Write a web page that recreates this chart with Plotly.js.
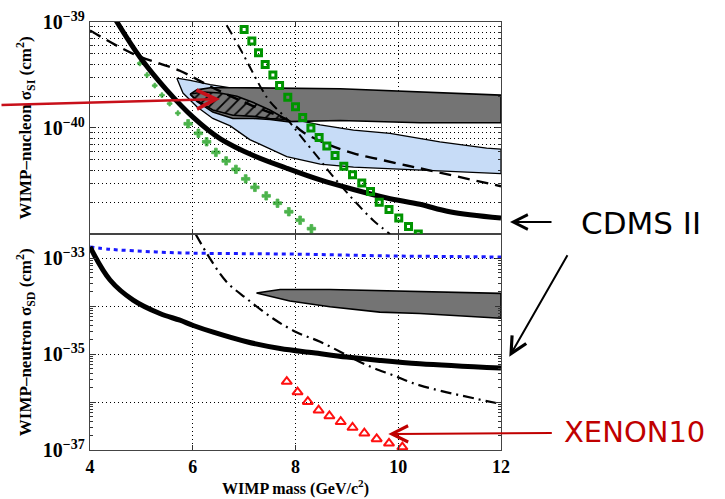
<!DOCTYPE html>
<html>
<head>
<meta charset="utf-8">
<script src="https://cdn.plot.ly/plotly-3.0.1.min.js"></script>
<style>html,body{margin:0;padding:0;background:#fff;}#chart{width:725px;height:499px;}</style>
</head>
<body>
<div id="chart"></div>
<script>
// ---------- DATA (mass in GeV/c^2, cross sections as log10(cm^2)) ----------
// Top panel: spin-independent
const siLimitMass = [4.50, 4.97, 5.49, 6.01, 6.53, 7.18, 7.83, 8.48, 9.13, 9.78, 10.42, 11.0, 12.0];
const siLimitLog  = [-38.98, -39.33, -39.64, -39.90, -40.10, -40.26, -40.38, -40.49, -40.58, -40.66, -40.72, -40.79, -40.85];

const siDashMass = [4.0, 4.84, 5.75, 6.39, 7.11, 7.86, 8.15, 8.61, 9.13, 9.58, 10.03, 10.42, 12.0];
const siDashLog  = [-39.08, -39.30, -39.46, -39.62, -39.78, -39.93, -40.04, -40.15, -40.24, -40.29, -40.34, -40.38, -40.55];

const siDashDotMass = [6.66, 6.92, 7.15, 7.34, 7.50, 7.86, 8.09, 8.41, 8.67, 8.93, 9.19, 9.51, 9.84];
const siDashDotLog  = [-39.03, -39.25, -39.46, -39.63, -39.75, -39.93, -40.07, -40.26, -40.42, -40.57, -40.71, -40.87, -41.0];

const siSquareMass = [7.00, 7.15, 7.28, 7.41, 7.56, 7.69, 7.85, 8.00, 8.14, 8.30, 8.46, 8.61, 8.77, 8.94, 9.11, 9.29, 9.46, 9.63, 9.82, 10.01, 10.20, 10.39];
const siSquareLog  = [-39.07, -39.18, -39.29, -39.40, -39.50, -39.60, -39.71, -39.80, -39.90, -40.00, -40.09, -40.17, -40.26, -40.36, -40.44, -40.52, -40.60, -40.70, -40.77, -40.85, -40.93, -41.00];

const siCrossMass = [4.97, 5.11, 5.26, 5.40, 5.55, 5.71, 5.91, 6.11, 6.27, 6.45, 6.65, 6.84, 7.03, 7.21, 7.43, 7.65, 7.87, 8.09, 8.31];
const siCrossLog  = [-39.39, -39.50, -39.60, -39.69, -39.77, -39.86, -39.96, -40.05, -40.13, -40.23, -40.31, -40.39, -40.48, -40.56, -40.64, -40.71, -40.79, -40.87, -40.95];

// light-blue allowed region (closed contour)
const siBlueMass = [5.69, 5.95, 6.34, 6.86, 7.86, 8.48, 9.13, 9.84, 10.81, 11.72, 12.0, 12.0, 11.01, 10.03, 9.13, 8.48, 7.83, 7.11, 6.73, 6.39, 6.08, 5.81, 5.69];
const siBlueLog  = [-39.53, -39.55, -39.59, -39.63, -39.91, -39.97, -40.02, -40.05, -40.13, -40.19, -40.20, -40.43, -40.41, -40.39, -40.37, -40.34, -40.27, -40.11, -39.98, -39.91, -39.80, -39.67, -39.53];

// dark-grey allowed region (closed contour)
const siGreyMass = [5.95, 6.08, 6.34, 6.86, 8.87, 10.42, 12.0, 12.0, 10.42, 8.87, 7.85, 7.50, 7.18, 6.78, 6.39, 6.08, 5.95];
const siGreyLog  = [-39.68, -39.64, -39.62, -39.62, -39.63, -39.66, -39.69, -39.95, -39.95, -39.93, -39.94, -39.92, -39.91, -39.91, -39.85, -39.75, -39.68];

// hatched region (closed contour)
const siHatchMass = [5.95, 6.21, 6.53, 6.86, 7.18, 7.50, 7.83, 7.50, 7.18, 6.78, 6.39, 6.08, 5.95];
const siHatchLog  = [-39.68, -39.66, -39.67, -39.70, -39.76, -39.83, -39.92, -39.91, -39.89, -39.88, -39.83, -39.74, -39.68];

// Bottom panel: spin-dependent (neutron)
const sdLimitMass = [4.0, 4.39, 4.84, 5.36, 5.75, 6.01, 6.40, 7.05, 7.70, 8.35, 9.0, 9.64, 10.42, 12.0];
const sdLimitLog  = [-32.76, -33.45, -33.87, -34.15, -34.29, -34.40, -34.54, -34.74, -34.88, -34.97, -35.06, -35.13, -35.20, -35.29];

const sdDottedMass = [4.0, 4.4, 4.84, 5.4, 6.0, 7.0, 8.0, 9.0, 10.0, 11.0, 12.0];
const sdDottedLog  = [-32.76, -32.81, -32.84, -32.87, -32.89, -32.90, -32.91, -32.93, -32.95, -32.96, -32.97];

const sdDashDotMass = [6.06, 6.34, 6.66, 7.05, 7.57, 8.02, 8.48, 9.0, 9.39, 9.90, 10.42, 12.0];
const sdDashDotLog  = [-32.5, -33.01, -33.49, -33.84, -34.26, -34.54, -34.74, -35.02, -35.23, -35.44, -35.65, -36.04];

const sdGreyMass = [7.24, 7.70, 8.67, 9.64, 10.42, 12.0, 12.0, 10.42, 9.64, 8.67, 7.89, 7.44, 7.24];
const sdGreyLog  = [-33.72, -33.65, -33.65, -33.67, -33.70, -33.73, -34.25, -34.15, -34.12, -34.01, -33.89, -33.78, -33.72];

const sdTriMass = [7.83, 8.04, 8.24, 8.45, 8.66, 8.88, 9.11, 9.34, 9.58, 9.82, 10.08];
const sdTriLog  = [-35.57, -35.79, -35.99, -36.17, -36.29, -36.41, -36.53, -36.65, -36.77, -36.86, -36.94];

const xTicks = [4, 6, 8, 10, 12];
const topTickText = ['10<sup>−40</sup>', '10<sup>−39</sup>'];
const botTickText = ['10<sup>−37</sup>', '', '10<sup>−35</sup>', '', '10<sup>−33</sup>'];
const labelCDMS = 'CDMS II';
const labelXENON = 'XENON10';

// marker styles (first crosses are drawn as small dots in the reference)
const crossSizes = siCrossMass.map((m, i) => i < 6 ? 4 : 7);

// ---------- helpers ----------
const p10 = a => a.map(v => Math.pow(10, v));
const decades = (lo, hi) => { const o = []; for (let e = lo; e <= hi; e++) o.push(Math.pow(10, e)); return o; };
const minors = (lo, hi) => { const o = []; for (let e = lo; e < hi; e++) for (let d = 2; d <= 9; d++) o.push(d * Math.pow(10, e)); return o; };

const T = {xaxis: 'x2', yaxis: 'y2'};
const B = {xaxis: 'x', yaxis: 'y'};
const serif = 'Liberation Serif, Times New Roman, serif';

const traces = [
  // top panel
  Object.assign({x: siBlueMass, y: p10(siBlueLog), mode: 'lines', fill: 'toself', fillcolor: '#c7dcf7',
    line: {color: '#000', width: 1.3}, hoverinfo: 'skip'}, T),
  Object.assign({x: siGreyMass, y: p10(siGreyLog), mode: 'lines', fill: 'toself', fillcolor: '#747474',
    line: {color: '#000', width: 1.6}, hoverinfo: 'skip'}, T),
  Object.assign({x: siHatchMass, y: p10(siHatchLog), mode: 'lines', fill: 'toself', fillcolor: '#747474',
    fillpattern: {shape: '/', bgcolor: '#747474', fgcolor: '#000', size: 8, solidity: 0.22},
    line: {color: '#000', width: 1.6}, hoverinfo: 'skip'}, T),
  Object.assign({x: siCrossMass, y: p10(siCrossLog), mode: 'markers',
    marker: {symbol: 'cross', size: crossSizes, color: '#009400', line: {width: 0.8, color: '#009400'}}}, T),
  Object.assign({x: siLimitMass, y: p10(siLimitLog), mode: 'lines', line: {color: '#000', width: 5, shape: 'spline'}}, T),
  Object.assign({x: siDashMass, y: p10(siDashLog), mode: 'lines', line: {color: '#000', width: 2.4, dash: '12px,7px', shape: 'spline'}}, T),
  Object.assign({x: siDashDotMass, y: p10(siDashDotLog), mode: 'lines', line: {color: '#000', width: 2, dash: '10px,5px,2px,5px', shape: 'spline'}}, T),
  Object.assign({x: siSquareMass, y: p10(siSquareLog), mode: 'markers',
    marker: {symbol: 'square-open', size: 6, color: '#009400', line: {width: 3, color: '#009400'}}}, T),
  // bottom panel
  Object.assign({x: sdGreyMass, y: p10(sdGreyLog), mode: 'lines', fill: 'toself', fillcolor: '#747474',
    line: {color: '#000', width: 1.6}, hoverinfo: 'skip'}, B),
  Object.assign({x: sdDottedMass, y: p10(sdDottedLog), mode: 'lines', line: {color: '#1a1aff', width: 3, dash: '4px,4px', shape: 'spline'}}, B),
  Object.assign({x: sdLimitMass, y: p10(sdLimitLog), mode: 'lines', line: {color: '#000', width: 5, shape: 'spline'}}, B),
  Object.assign({x: sdDashDotMass, y: p10(sdDashDotLog), mode: 'lines', line: {color: '#000', width: 2.2, dash: '11px,5px,2px,5px', shape: 'spline'}}, B),
  Object.assign({x: sdTriMass, y: p10(sdTriLog), mode: 'markers',
    marker: {symbol: 'triangle-up-open', size: 9, color: '#ff1010', line: {width: 2, color: '#ff1010'}}}, B)
];

const gridDash = '1px,3px';
const xBase = {
  range: [4, 12], tickmode: 'array', tickvals: xTicks, ticks: 'inside', ticklen: 5, tickcolor: '#333',
  showline: true, linecolor: '#444', linewidth: 1.2, mirror: 'ticks', zeroline: false,
  showgrid: true, gridcolor: '#000', gridwidth: 1, griddash: gridDash
};
const yBase = {
  type: 'log', tickmode: 'array', ticks: 'inside', ticklen: 6, tickcolor: '#333',
  showline: true, linecolor: '#444', linewidth: 1.2, mirror: 'ticks', zeroline: false,
  showgrid: true, gridcolor: '#000', gridwidth: 1, griddash: gridDash,
  tickfont: {family: serif, size: 20, color: '#000', weight: 'bold'}
};

const layout = {
  width: 725, height: 499,
  margin: {l: 90, r: 224, t: 22, b: 49, pad: 0},
  paper_bgcolor: '#fff', plot_bgcolor: '#fff',
  showlegend: false,
  xaxis: Object.assign({}, xBase, {
    anchor: 'y', domain: [0, 1],
    tickfont: {family: serif, size: 18, color: '#000', weight: 'bold'},
    title: {text: 'WIMP mass (GeV/c<sup>2</sup>)', font: {family: serif, size: 16, color: '#000', weight: 'bold'}, standoff: 6}
  }),
  xaxis2: Object.assign({}, xBase, {anchor: 'y2', matches: 'x', showticklabels: false}),
  yaxis: Object.assign({}, yBase, {
    anchor: 'x', domain: [0, 0.5035], range: [-37, -32.5],
    tickvals: decades(-37, -33), ticktext: botTickText,
    minor: {tickmode: 'array', tickvals: minors(-37, -33), ticks: 'inside', ticklen: 3, tickcolor: '#333', showgrid: false},
    title: {text: 'WIMP–neutron σ<sub>SD</sub> (cm<sup>2</sup>)', font: {family: serif, size: 17, color: '#000', weight: 'bold'}, standoff: 6}
  }),
  yaxis2: Object.assign({}, yBase, {
    anchor: 'x2', domain: [0.5047, 1], range: [-41, -39],
    tickvals: decades(-40, -39), ticktext: topTickText,
    minor: {tickmode: 'array', tickvals: minors(-41, -39), ticks: 'inside', ticklen: 3, tickcolor: '#333',
      showgrid: true, gridcolor: '#000', gridwidth: 1, griddash: gridDash},
    title: {text: 'WIMP–nucleon σ<sub>SI</sub> (cm<sup>2</sup>)', font: {family: serif, size: 17, color: '#000', weight: 'bold'}, standoff: 6}
  }),
  annotations: [
    {xref: 'paper', yref: 'paper', x: 1.3418, y: 0.5304, text: labelCDMS, showarrow: false,
     xanchor: 'center', yanchor: 'middle', font: {family: 'DejaVu Sans, sans-serif', size: 31, color: '#000'}},
    {xref: 'paper', yref: 'paper', x: 1.3260, y: 0.0409, text: labelXENON, showarrow: false,
     xanchor: 'center', yanchor: 'middle', font: {family: 'DejaVu Sans, sans-serif', size: 29, color: '#c00000'}},
    {xref: 'paper', yref: 'paper', x: 1.0219, y: 0.5327, text: '', showarrow: true, ax: 43, ay: 0,
     arrowhead: 5, arrowsize: 1.6, arrowwidth: 1.8, arrowcolor: '#000', standoff: 0},
    {xref: 'paper', yref: 'paper', x: 1.0202, y: 0.2180, text: '', showarrow: true, ax: 59, ay: -103,
     arrowhead: 5, arrowsize: 1.6, arrowwidth: 2, arrowcolor: '#000', standoff: 0},
    {xref: 'paper', yref: 'paper', x: 0.7258, y: 0.0374, text: '', showarrow: true, ax: 165, ay: -1,
     arrowhead: 5, arrowsize: 1.6, arrowwidth: 2, arrowcolor: '#c00000', standoff: 0},
    {xref: 'paper', yref: 'paper', x: 0.3163, y: 0.8201, text: '', showarrow: true, ax: -220, ay: 6,
     arrowhead: 5, arrowsize: 1.5, arrowwidth: 2.5, arrowcolor: '#c8101a', standoff: 0}
  ]
};

Plotly.newPlot('chart', traces, layout, {staticPlot: true, displayModeBar: false});
</script>
</body>
</html>
